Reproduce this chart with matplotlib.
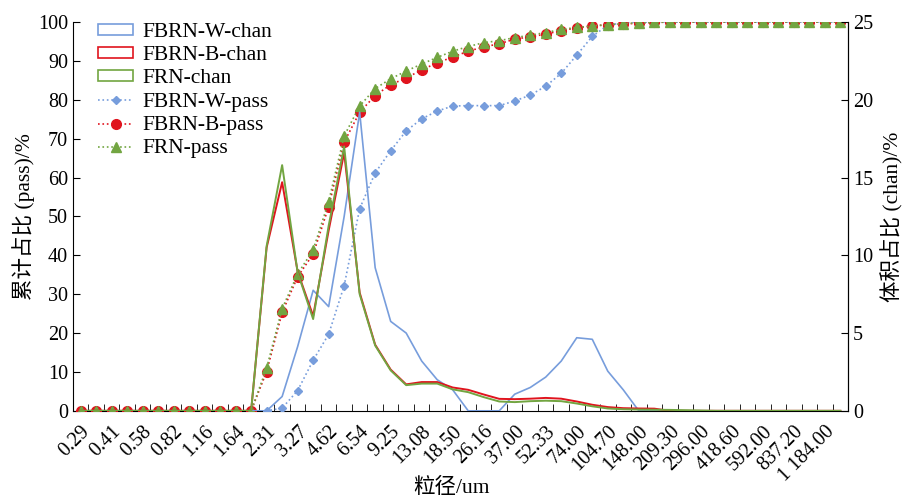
import numpy as np
import matplotlib.pyplot as plt
from matplotlib.patches import Patch
from matplotlib.lines import Line2D
from matplotlib.transforms import ScaledTranslation

plt.rcParams['font.family'] = ['Liberation Serif', 'Noto Sans CJK SC']
plt.rcParams['font.size'] = 14.5

# particle size classes (um)
sizes = ["0.29", "0.35", "0.41", "0.49", "0.58", "0.69", "0.82", "0.98", "1.16", "1.38",
         "1.64", "1.95", "2.31", "2.75", "3.27", "3.89", "4.62", "5.50", "6.54", "7.78",
         "9.25", "11.00", "13.08", "15.56", "18.50", "22.00", "26.16", "31.11", "37.00", "44.00",
         "52.33", "62.23", "74.00", "88.00", "104.70", "124.50", "148.00", "176.00", "209.30", "248.90",
         "296.00", "352.00", "418.60", "497.80", "592.00", "704.00", "837.20", "995.60", "1 184.00", "1 408.00"]

# volume fraction per class (%), right axis
fbrn_w_chan = [0] * 13 + [0.92, 4.13, 7.75, 6.7, 12.5, 19.2, 9.2, 5.75, 5.0, 3.2, 2.0, 1.35, 0, 0, 0,
                          1.07, 1.5, 2.17, 3.2, 4.7, 4.6, 2.55, 1.35] + [0] * 14
fbrn_b_chan = [0] * 12 + [10.5, 14.7, 8.95, 6.1, 11.6, 16.6, 7.6, 4.25, 2.65, 1.7, 1.85, 1.85, 1.5, 1.35,
                          1.05, 0.77, 0.75, 0.78, 0.83, 0.78, 0.6, 0.39, 0.24, 0.17, 0.15, 0.14] + [0] * 12
frn_chan = [0] * 12 + [10.6, 15.8, 8.9, 5.9, 11.9, 17.0, 7.5, 4.2, 2.6, 1.65, 1.75, 1.75, 1.38, 1.2,
                       0.88, 0.6, 0.56, 0.62, 0.65, 0.62, 0.47, 0.29, 0.15, 0.1, 0.08, 0.07, 0.06, 0.04,
                       0.02] + [0] * 9

# cumulative passing (%), left axis
fbrn_w_pass = [0] * 13 + [0.7, 5.2, 13.0, 19.7, 32.2, 52.0, 61.2, 66.9, 72.0, 75.1, 77.1, 78.4, 78.5,
                          78.5, 78.5, 79.7, 81.2, 83.5, 86.8, 91.5, 96.3, 99.2, 99.8] + [100] * 14
fbrn_b_pass = [0] * 12 + [10.1, 25.3, 34.5, 40.3, 52.5, 69.1, 76.8, 81.1, 83.9, 85.6, 87.7, 89.5, 91.0,
                          92.5, 93.6, 94.4, 95.6, 96.2, 96.9, 97.8, 98.5, 99.0, 99.3, 99.5, 99.7,
                          99.9] + [100] * 12
frn_pass = [0] * 12 + [11.0, 26.3, 35.2, 41.4, 53.8, 70.7, 78.4, 82.9, 85.4, 87.4, 89.2, 90.9, 92.5,
                       93.7, 94.7, 95.2, 96.0, 96.6, 97.3, 98.1, 98.6, 99.0, 99.3, 99.6, 99.8,
                       99.9] + [100] * 12

blue = '#779ddc'
red = '#e0141e'
green = '#72a541'

x = np.arange(len(sizes))

fig = plt.figure(figsize=(9.1, 5.01), dpi=100)
ax = fig.add_axes([0.080, 0.180, 0.852, 0.776])
ax2 = ax.twinx()

ax.plot(x, fbrn_w_pass, ls=':', lw=1.2, color=blue, marker='D', ms=4.5, mec=blue, mfc=blue, zorder=3)
ax.plot(x, fbrn_b_pass, ls=':', lw=1.2, color=red, marker='o', ms=7, mec=red, mfc=red, zorder=4)
ax.plot(x, frn_pass, ls=':', lw=1.2, color=green, marker='^', ms=6.5, mec=green, mfc=green, zorder=5)

ax2.plot(x, fbrn_w_chan, color=blue, lw=1.2)
ax2.plot(x, fbrn_b_chan, color=red, lw=1.4)
ax2.plot(x, frn_chan, color=green, lw=1.4)

ax.set_xlim(-0.5, len(sizes) - 0.5)
ax.set_ylim(0, 100)
ax2.set_ylim(0, 25)
ax.set_yticks(np.arange(0, 101, 10))
ax2.set_yticks(np.arange(0, 26, 5))

ax.set_xticks(x[::2])
ax.set_xticklabels(sizes[::2], rotation=45, ha='right', va='top', rotation_mode='anchor')
shift = ScaledTranslation(-0.075, -0.02, fig.dpi_scale_trans)
for lab in ax.get_xticklabels():
    lab.set_transform(lab.get_transform() + shift)
ax.set_xticks(np.arange(-0.5, len(sizes)), minor=True)
ax.tick_params(axis='x', which='major', length=0, pad=8)
ax.tick_params(axis='x', which='minor', direction='in', length=5)
ax.tick_params(axis='y', direction='in', length=5)
ax2.tick_params(axis='y', direction='in', length=5)

for a in (ax, ax2):
    a.spines['top'].set_visible(False)
ax2.spines['left'].set_visible(False)
ax2.spines['bottom'].set_visible(False)

ax.set_ylabel('累计占比 (pass)/%', fontsize=15.5, labelpad=2)
ax2.set_ylabel('体积占比 (chan)/%', fontsize=15.5, labelpad=6)
fig.text(0.496, 1 - 488 / 501, '粒径/um', fontsize=15.5, ha='center', va='center')

handles = [
    Patch(facecolor='none', edgecolor=blue, lw=1.2),
    Patch(facecolor='none', edgecolor=red, lw=1.2),
    Patch(facecolor='none', edgecolor=green, lw=1.2),
    Line2D([], [], ls=':', lw=1.2, color=blue, marker='D', ms=4.5),
    Line2D([], [], ls=':', lw=1.2, color=red, marker='o', ms=7),
    Line2D([], [], ls=':', lw=1.2, color=green, marker='^', ms=6.5),
]
labels = ['FBRN-W-chan', 'FBRN-B-chan', 'FRN-chan', 'FBRN-W-pass', 'FBRN-B-pass', 'FRN-pass']
ax2.legend(handles, labels, loc='upper left', bbox_to_anchor=(0.022, 1.02), frameon=False,
           handlelength=1.6, handleheight=0.4, handletextpad=0.45, labelspacing=0.2,
           borderaxespad=0, fontsize=15.5)

fig.savefig('out.png', dpi=100)
